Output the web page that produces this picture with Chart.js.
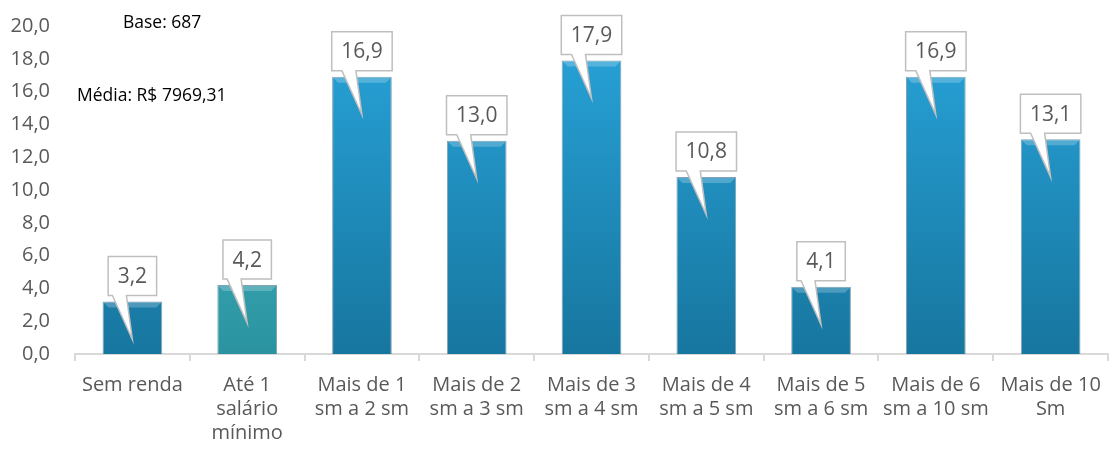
<!DOCTYPE html>
<html>
<head>
<meta charset="utf-8">
<script src="https://cdn.jsdelivr.net/npm/chart.js@4"></script>
<style>
  body { margin: 0; background: #fff; }
  #wrap { position: relative; width: 1113px; height: 450px; }
</style>
</head>
<body>
<div id="wrap"><canvas id="grafico" width="1113" height="450"></canvas></div>
<script>
var categorias = [
  ["Sem renda"],
  ["Até 1", "salário", "mínimo"],
  ["Mais de 1", "sm a 2 sm"],
  ["Mais de 2", "sm a 3 sm"],
  ["Mais de 3", "sm a 4 sm"],
  ["Mais de 4", "sm a 5 sm"],
  ["Mais de 5", "sm a 6 sm"],
  ["Mais de 6", "sm a 10 sm"],
  ["Mais de 10", "Sm"]
];
var valores = [3.2, 4.2, 16.9, 13.0, 17.9, 10.8, 4.1, 16.9, 13.1];
var coresTopo = ["#28a4da", "#4fc5d3", "#28a4da", "#28a4da", "#28a4da", "#28a4da", "#28a4da", "#28a4da", "#28a4da"];
var coresBase = ["#17769f", "#2a939f", "#17769f", "#17769f", "#17769f", "#17769f", "#17769f", "#17769f", "#17769f"];
var notas = ["Base: 687", "Média: R$ 7969,31"];

var fonte = "'Open Sans', sans-serif";

function virgula(v) { return v.toFixed(1).replace(".", ","); }

// gradiente de cada barra
function corBarra(ctx) {
  var chart = ctx.chart;
  var area = chart.chartArea;
  if (!area) return coresTopo[ctx.dataIndex];
  var g = chart.ctx.createLinearGradient(0, area.top, 0, area.bottom);
  g.addColorStop(0, coresTopo[ctx.dataIndex]);
  g.addColorStop(1, coresBase[ctx.dataIndex]);
  return g;
}

// balões com o valor
var baloes = {
  id: "baloes",
  afterDatasetsDraw: function (chart) {
    var c = chart.ctx;
    var meta = chart.getDatasetMeta(0);
    c.save();
    c.font = "21px " + fonte;
    meta.data.forEach(function (bar, i) {
      // brilho no topo da barra
      var meia = bar.width / 2;
      c.fillStyle = "rgba(255,255,255,0.22)";
      c.beginPath();
      c.moveTo(bar.x - meia + 1, bar.y + 1);
      c.lineTo(bar.x + meia - 1, bar.y + 1);
      c.lineTo(bar.x + meia - 6, bar.y + 6);
      c.lineTo(bar.x - meia + 6, bar.y + 6);
      c.closePath();
      c.fill();

      var txt = virgula(valores[i]);
      var w = c.measureText(txt).width + 19;
      var h = 39;
      var x0 = bar.x - w / 2;
      var y1 = bar.y - 6;
      var y0 = y1 - h;
      var tipY = bar.y + 38;
      c.beginPath();
      c.moveTo(x0, y0);
      c.lineTo(x0 + w, y0);
      c.lineTo(x0 + w, y1);
      c.lineTo(bar.x - 6, y1);
      c.lineTo(bar.x, tipY);
      c.lineTo(bar.x - 20, y1);
      c.lineTo(x0, y1);
      c.closePath();
      c.fillStyle = "#ffffff";
      c.fill();
      c.strokeStyle = "#bfbfbf";
      c.lineWidth = 1.5;
      c.stroke();
      c.fillStyle = "#595959";
      c.textAlign = "center";
      c.textBaseline = "middle";
      c.fillText(txt, bar.x, (y0 + y1) / 2 + 1);
    });
    // notas
    c.fillStyle = "#000";
    c.textAlign = "left";
    c.textBaseline = "middle";
    c.font = "17.5px " + fonte;
    c.fillText(notas[0], 123, 23);
    c.fillText(notas[1], 77, 96);
    c.restore();
  }
};

new Chart(document.getElementById("grafico").getContext("2d"), {
  type: "bar",
  data: {
    labels: categorias,
    datasets: [{
      data: valores,
      backgroundColor: corBarra,
      borderColor: "rgba(10,70,100,0.5)",
      borderWidth: 1,
      categoryPercentage: 1,
      barPercentage: 0.52
    }]
  },
  options: {
    responsive: false,
    animation: false,
    layout: { padding: { top: 26, right: 3, left: 0, bottom: 0 } },
    plugins: { legend: { display: false }, tooltip: { enabled: false } },
    scales: {
      y: {
        min: 0, max: 20,
        afterFit: function (axis) { axis.width = 75; axis.paddingTop = 0; axis.paddingBottom = 0; },
        ticks: { stepSize: 2, color: "#595959", font: { size: 20, family: fonte }, callback: function (v) { return virgula(v); }, padding: 25 },
        grid: { display: false, drawTicks: false },
        border: { display: false }
      },
      x: {
        offset: true,
        afterFit: function (axis) { axis.height = 96; },
        ticks: { color: "#595959", font: { size: 20, family: fonte, lineHeight: 1.2 }, maxRotation: 0, autoSkip: false, padding: 12 },
        grid: { display: true, offset: true, drawOnChartArea: false, color: "#d9d9d9", tickLength: 7, lineWidth: 2 },
        border: { display: true, color: "#d9d9d9", width: 2 }
      }
    }
  },
  plugins: [baloes]
});
</script>
</body>
</html>
